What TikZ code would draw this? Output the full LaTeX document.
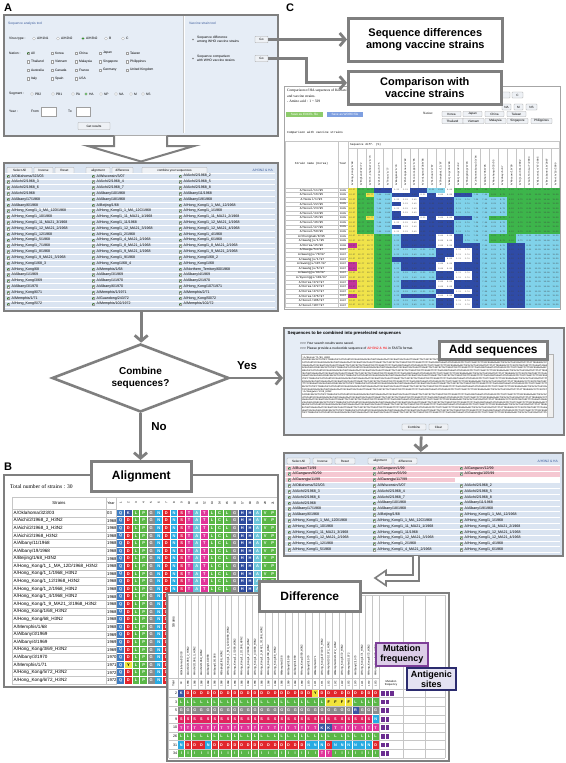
\documentclass[tikz,border=0pt]{standalone}
\usepackage{fontspec}
\setmainfont{Liberation Sans}
\newfontfamily\serifF{Liberation Serif}
\newfontfamily\monoF{Liberation Mono}
\usetikzlibrary{arrows.meta,shapes.geometric,calc}

\definecolor{fg}{HTML}{7F7F7F}
\definecolor{panelbg}{HTML}{E6EDF6}
\definecolor{rowbg}{HTML}{DAE4F1}
\definecolor{pinkrow}{HTML}{F5C8D2}
\definecolor{titleblue}{HTML}{3A5A9A}
\definecolor{btnbg}{HTML}{EEF1F5}
\definecolor{selbtn}{HTML}{B7C3D9}
\definecolor{aaQ}{HTML}{3E7DC3}
\definecolor{aaK}{HTML}{3A55A3}
\definecolor{aaR}{HTML}{3A55A3}
\definecolor{aaH}{HTML}{2D4B9E}
\definecolor{aaD}{HTML}{E2262C}
\definecolor{aaL}{HTML}{5AB747}
\definecolor{aaI}{HTML}{5AB747}
\definecolor{aaV}{HTML}{5AB747}
\definecolor{aaP}{HTML}{5AB747}
\definecolor{aaC}{HTML}{5AB747}
\definecolor{aaG}{HTML}{8C8C8C}
\definecolor{aaN}{HTML}{28ABE2}
\definecolor{aaA}{HTML}{6CC5D9}
\definecolor{aaS}{HTML}{E1245F}
\definecolor{aaT}{HTML}{E0359A}
\definecolor{aaY}{HTML}{F1E33B}
\definecolor{aaF}{HTML}{F1E33B}
\definecolor{pcy}{HTML}{F0E34A}
\definecolor{pcg}{HTML}{3DB54B}
\definecolor{pcb}{HTML}{2F4BA6}
\definecolor{pcc}{HTML}{80D2EA}
\definecolor{pcw}{HTML}{FFFFFF}
\definecolor{pcm}{HTML}{C2329C}
\definecolor{mfpurple}{HTML}{6B2D90}
\definecolor{mfbox}{HTML}{7D3F98}
\definecolor{mffill}{HTML}{DCCDE8}
\definecolor{asbox}{HTML}{2B2B6E}
\definecolor{asfill}{HTML}{E4E2F2}
\definecolor{xlgreen}{HTML}{8DCB6B}
\definecolor{wdblue}{HTML}{7E9FE0}

\def\blackY{}\def\blackF{}

\tikzset{
  panel/.style={draw=fg, line width=2.4pt, fill=panelbg, inner sep=0pt, anchor=north west},
  wpanel/.style={panel, fill=white},
  callout/.style={draw=fg, line width=2.6pt, fill=white, inner sep=0pt, align=center, anchor=north west, font=\bfseries\fontsize{11}{12}\selectfont},
  flow/.style={draw=fg, line width=2.8pt, -{Straight Barb[length=5.5pt,width=13pt]}},
  hollow/.style={draw=fg, line width=2pt, fill=white, line join=miter},
  lab/.style={font=\bfseries\fontsize{11}{12}\selectfont, anchor=west, inner sep=0pt},
  tt/.style={font=\fontsize{3.3}{3.8}\selectfont, inner sep=0pt, anchor=west},
  lt/.style={font=\fontsize{3.6}{4}\selectfont, inner sep=0pt, anchor=west},
  btn/.style={draw=gray!70, fill=btnbg, line width=0.35pt, rounded corners=0.6pt},
  btntext/.style={font=\fontsize{3.1}{3.5}\selectfont, inner sep=0pt},
  ckbox/.style={draw=gray!75, fill=white, line width=0.3pt},
  tick/.style={draw=green!40!black, line width=0.3pt},
  grid/.style={draw=gray!45, line width=0.3pt},
}

\newcommand\uiBtn[5]{\draw[btn] (#1,#2) rectangle (#3,#4);
  \node[btntext] at ({(#1+#3)/2},{(#2+#4)/2}) {#5};}
\newcommand\uiChk[2]{\draw[ckbox] ({#1-1.3},{#2-1.3}) rectangle ({#1+1.3},{#2+1.3});
  \draw[tick] ({#1-0.8},{#2}) -- ({#1-0.15},{#2+0.75}) -- ({#1+0.9},{#2-0.9});}
\newcommand\uiBox[2]{\draw[ckbox] ({#1-1.3},{#2-1.3}) rectangle ({#1+1.3},{#2+1.3});}
\newcommand\uiRad[3]{\draw[ckbox] (#1,#2) circle (1.5pt);
  \ifnum#3=1 \fill[green!55!black] (#1,#2) circle (0.8pt);\fi}
\def\dnaA{CAAAAACTTCCCGGAAATGACAACAGCACGGCAACGCTGTGCCTGGGACACCATGCAGTGCCAAACGGAACGATAGTGAAAACAATCACGAATGACCAAATTGAAGTTACTAATGCTACTGAGCTGGTTCAGAGTTCCTCAACAGGTGAAATATGCGACAGTCCTCATCAGATCCTTGATGGAGAAAACTGCACACTAATAGATGCTCTATTGGGAGACCCTCAGTGTGATGGCTTCCAAAATAAGAAATGGGACCTTTTTGTTGAACGCAGCAAAGCCTACAGCAACTGTTACCCTTAT}

\begin{document}
\begin{tikzpicture}[x=1pt,y=-1pt]
\useasboundingbox (0,0) rectangle (565,763);
\fill[white] (0,0) rectangle (565,763);

% ---------- panel labels
\node[lab] (labA) at (4,8) {A};
\node[lab] (labC) at (286,8) {C};
\node[lab] (labB) at (4,467) {B};

% =================== PANEL A ===================
\node[panel, minimum width=274pt, minimum height=121pt] (panelA) at (3,14) {};
\draw[white, line width=1.2pt] (184.6,16) -- (184.6,132.5);
\draw[gray!45, line width=0.4pt] (183.6,16) -- (183.6,132.5);
\node[tt, text=titleblue] (satitle) at (8,23.5) {Sequence analysis tool};
\node[tt] (vt) at (9,38.5) {Virus type :};
\foreach \x/\t/\s in {34/{A/H1N1}/0,58/{A/H2N2}/0,83/{A/H3N2}/1,106/B/0,123/C/0}{
  \uiRad{\x}{38.5}{\s}
  \node[tt] at (\x+2.8,38.5) {\t};}
\node[tt] (nat) at (9,53) {Nation :};
\foreach \x/\t/\s in {28/All/1,52/Korea/0,76/China/0,100/Japan/0,127/Taiwan/0}{
  \ifnum\s=1 \uiChk{\x}{53}\else\uiBox{\x}{53}\fi
  \node[tt] at (\x+2.8,53) {\t};}
\foreach \yy/\lst in {61.5/{Thailand,Vietnam,Malaysia,Singapore,Philippines},70/{Australia,Canada,France,Germany,United Kingdom},78.5/{Italy,Spain,USA}}{
  \foreach \t [count=\k] in \lst {
    \pgfmathsetmacro\xx{{28,52,76,100,127}[\k-1]}
    \uiBox{\xx}{\yy}
    \node[tt] at (\xx+2.8,\yy) {\t};}}
\node[tt] (seg) at (9,94) {Segment :};
\foreach \x/\t/\s in {32/PB2/0,53/PB1/0,73/PA/0,86/HA/1,101/NP/0,116/NA/0,131/M/0,143/NS/0}{
  \uiRad{\x}{94}{\s}
  \node[tt] at (\x+2.8,94) {\t};}
\node[tt] (yr) at (9,111.5) {Year :};
\node[tt] at (31,111.5) {From};
\draw[ckbox] (41,107) rectangle (56,116);
\node[tt] at (68,111.5) {To};
\draw[ckbox] (76,107) rectangle (90,116);
\uiBtn{78}{122.5}{110}{129.5}{Get results}
\node[tt, text=titleblue] (vstitle) at (189,23.5) {Vaccine strain tool};
\fill[gray] (193,39.5) circle (0.8pt);
\node[tt, align=left] at (197,39.5) {Sequence difference\\among WHO vaccine strains};
\fill[gray] (193,58.5) circle (0.8pt);
\node[tt, align=left] at (197,58.5) {Sequence comparison\\with WHO vaccine strains};
\node[btn, btntext, minimum width=13pt, minimum height=6.5pt] (go1) at (261.5,39.5) {Go};
\node[btn, btntext, minimum width=13pt, minimum height=6.5pt] (go2) at (261.5,58.5) {Go};

% =================== PANEL C screenshot ===================
\node[draw=gray!70, line width=0.8pt, fill=white, inner sep=0pt, anchor=north west, minimum width=276pt, minimum height=223pt] (panelC) at (284,86) {};
\node[tt, font=\serifF\fontsize{3.6}{4}\selectfont] at (287,91) {Comparison of HA sequences of Korean isolates};
\node[tt, font=\serifF\fontsize{3.6}{4}\selectfont] at (287,96) {and vaccine strains.};
\node[tt, font=\serifF\fontsize{3.6}{4}\selectfont] at (287,101) {- Amino acid : 1 \textasciitilde{} 329};
\fill[xlgreen] (286,111.5) rectangle (323,116.5);
\node[btntext, text=white] at (304.5,114) {Save as EXCEL file};
\fill[wdblue] (327,111.5) rectangle (363,116.5);
\node[btntext, text=white] at (345,114) {Save as WORD file};
\uiBtn{498}{92}{510}{98}{}
\uiBtn{512}{92}{523}{98}{C}
\uiBtn{502}{104}{511}{110}{NA}
\uiBtn{514}{104}{523}{110}{M}
\uiBtn{526}{104}{537}{110}{NS}
\node[tt, font=\serifF\fontsize{3.3}{3.8}\selectfont] at (423,113.5) {Nation:};
\foreach \x/\t in {442/Korea,463/Japan,485/China,507/Taiwan}{\uiBtn{\x}{111.5}{\x+19}{116.5}{\t}}
\foreach \x/\t in {442/Thailand,463/Vietnam,485/Malaysia,507/Singapore,531/Philippines}{\uiBtn{\x}{118.5}{\x+21}{123.5}{\t}}
\node[tt, font=\monoF\fontsize{3}{3.5}\selectfont] at (287,133) {Comparison with vaccine strains};
% table
\draw[grid] (285,141) rectangle (559,307);
\draw[grid] (285,188) -- (559,188);
\draw[grid] (338,141) -- (338,307);
\draw[grid] (348,141) -- (348,307);
\draw[grid] (348,148) -- (559,148);
\foreach \k in {1,...,23}{\draw[grid] ({348+\k*8.83},148) -- ({348+\k*8.83},188);}
\node[tt, font=\monoF\fontsize{2.8}{3}\selectfont] at (350,145) {Sequence diff. (\%)};
\node[font=\monoF\fontsize{2.9}{3}\selectfont, inner sep=0pt] at (311.5,164) {Strain name (Korea)};
\node[font=\monoF\fontsize{2.9}{3}\selectfont, inner sep=0pt] at (343,164) {Year};
\foreach \nm [count=\k] in {A/Hong\_Kong/1/68,A/England/42/72,A/Port\_Chalmers/1/73,A/Victoria/3/75,A/Texas/1/77,A/Bangkok/1/79,A/Philippines/2/82,A/Mississippi/1/85,A/Leningrad/360/86,A/Sichuan/2/87,A/Shanghai/11/87,A/Beijing/353/89,A/Beijing/32/92,A/Shangdong/9/93,A/Johannesburg/33/94,A/Wuhan/359/95,A/Nanchang/933/95,A/Sydney/5/97,A/Moscow/10/99,A/Fujian/411/2002,A/California/7/2004,A/Wisconsin/67/2005,A/Brisbane/10/2007,A/Perth/16/2009}{
  \node[rotate=90, anchor=west, font=\monoF\fontsize{2.5}{3}\selectfont, inner sep=0pt] at ({348+(\k-0.5)*8.83},186) {\nm};}
\def\patA{y,g,g,b,b,w,w,b,b,c,c,w,g,g,g,g,g,g,g,g,g,g,g,g}
\def\patB{y,g,y,c,c,b,b,b,w,b,w,w,b,b,c,c,g,g,g,g,g,g,g,g}
\def\patC{y,g,g,c,c,w,w,w,b,b,b,b,c,c,c,c,c,c,g,g,g,g,g,g}
\def\patD{y,g,g,c,c,b,w,w,b,b,b,b,c,c,c,c,c,c,g,g,g,g,g,g}
\def\patE{y,y,y,g,g,c,b,b,b,b,w,w,b,c,c,c,g,g,g,c,c,c,c,c}
\def\patF{m,y,y,g,g,c,b,b,b,b,w,w,b,b,b,c,c,c,b,b,c,c,c,c}
\def\patG{y,y,y,g,g,c,c,c,c,c,b,b,w,w,b,c,c,c,b,b,c,c,c,c}
\def\patH{y,y,y,g,g,b,b,b,b,b,b,w,w,w,b,c,c,c,b,b,c,c,c,c}
\foreach \nm/\yr/\pt [count=\r] in {{A/Seoul/11/95}/1995/A,{A/Seoul/16/95}/1995/B,{A/Seoul/1/95}/1995/C,{A/Seoul/22/95}/1995/D,{A/Seoul/23/95}/1995/C,{A/Seoul/44/95}/1995/D,{A/Seoul/45/95}/1995/B,{A/Seoul/46/95}/1995/C,{A/Seoul/47/95}/1995/D,{A/Seoul/50/95}/1995/C,{A/Chungnam/8/95}/1995/E,{A/Gwangju/1/95}/1995/E,{A/Korea/45/96}/1996/F,{A/Daegu/54/97}/1997/G,{A/Gwangju/70/97}/1997/G,{A/Gwangju/1/97}/1997/H,{A/Gwangju/107/97}/1997/F,{A/Gwangju/6/97}/1997/F,{A/Gwangju/93/97}/1997/G,{A/Gyeonggi/102/97}/1997/G,{A/Korea/372/97}/1997/F,{A/Korea/472/97}/1997/F,{A/Korea/473/97}/1997/G,{A/Korea/476/97}/1997/F,{A/Seoul/106/97}/1997/G,{A/Seoul/107/97}/1997/G}{
  \pgfmathsetmacro\yy{188+(\r-1)*4.6}
  \node[font=\monoF\fontsize{3}{3}\selectfont, inner sep=0pt] at (311.5,\yy+2.3) {\nm};
  \node[font=\monoF\fontsize{2.6}{3}\selectfont, inner sep=0pt] at (343,\yy+2.3) {\yr};
  \expandafter\let\expandafter\pat\csname pat\pt\endcsname
  \foreach \cl [count=\k] in \pat {\fill[pc\cl] ({348+(\k-1)*8.83},\yy) rectangle ++(8.83,4.6);}
  \draw[grid] (285,\yy+4.6) -- (348,\yy+4.6);
}
\foreach \r in {1,...,26}{
  \foreach \v [count=\k] in {12.27,12.77,12.77,7.60,8.05,1.22,2.13,2.43,8.21,8.21,8.88,8.88,2.74,2.74,7.29,7.90,8.21,8.73,9.12,9.73,8.21,11.25,10.84,11.25}{
    \node[font=\monoF\fontsize{2}{2}\selectfont, inner sep=0pt, text=black!75] at ({348+(\k-0.5)*8.83},{188+(\r-0.5)*4.6}) {\v};}}

% ---------- callouts for A -> C
\node[callout, minimum width=154pt, minimum height=43pt] (seqdiff) at (347,17) {Sequence differences\\among vaccine strains};
\node[callout, minimum width=153pt, minimum height=33pt] (compbox) at (347,70) {Comparison with\\vaccine strains};
\draw[flow] (go1.east) -- (go1.east -| seqdiff.west);
\draw[flow] (go2.east) -- ++(38,0) |- ([yshift=5pt]compbox.west);

% =================== STRAIN LIST ===================
\node[panel, fill=rowbg, minimum width=274pt, minimum height=148pt] (list) at (3,162) {};
\fill[selbtn] (7,167.5) rectangle (32,173.5);
\uiBtn{7}{167.5}{32}{173.5}{Select All}
\uiBtn{34}{167.5}{53}{173.5}{Inverse}
\uiBtn{55}{167.5}{74}{173.5}{Reset}
\uiBtn{86}{167.5}{110}{173.5}{alignment}
\uiBtn{112}{167.5}{133}{173.5}{difference}
\uiBtn{142}{167.5}{207}{173.5}{combine your sequences}
\node[tt, anchor=east, text=titleblue] at (273,170.5) {A/H3N2 \& HA};
\foreach \i in {0,...,23}{\draw[white, line width=0.6pt] (5,{173.1+\i*5.82}) -- (275,{173.1+\i*5.82});}
\foreach \na/\nb/\nc [count=\i from 0] in {
{A/Oklahoma/323/03}/{A/Wisconsin/3/07}/{A/Aichi/2/1968\_2},
{A/Aichi/2/1968\_3}/{A/Aichi/2/1968\_4}/{A/Aichi/2/1968\_5},
{A/Aichi/2/1968\_6}/{A/Aichi/2/1968\_7}/{A/Aichi/2/1968\_8},
{A/Aichi/2/1968}/{A/Albany/10/1968}/{A/Albany/11/1968},
{A/Albany/17/1968}/{A/Albany/18/1968}/{A/Albany/19/1968},
{A/Albany/6/1968}/{A/Beijing/1/68}/{A/Hong\_Kong/1\_1\_MA\_12/1968},
{A/Hong\_Kong/1\_1\_MA\_12D/1968}/{A/Hong\_Kong/1\_1\_MA\_12C/1968}/{A/Hong\_Kong/1\_1/1968},
{A/Hong\_Kong/1\_10/1968}/{A/Hong\_Kong/1\_11\_MA21\_1/1968}/{A/Hong\_Kong/1\_11\_MA21\_2/1968},
{A/Hong\_Kong/1\_11\_MA21\_3/1968}/{A/Hong\_Kong/1\_11/1968}/{A/Hong\_Kong/1\_12\_MA21\_1/1968},
{A/Hong\_Kong/1\_12\_MA21\_2/1968}/{A/Hong\_Kong/1\_12\_MA21\_3/1968}/{A/Hong\_Kong/1\_12\_MA21\_4/1968},
{A/Hong\_Kong/1\_12/1968}/{A/Hong\_Kong/1\_2/1968}/{A/Hong\_Kong/1\_4/1968},
{A/Hong\_Kong/1\_5/1968}/{A/Hong\_Kong/1\_4\_MA21\_2/1968}/{A/Hong\_Kong/1\_6/1968},
{A/Hong\_Kong/1\_7/1968}/{A/Hong\_Kong/1\_8\_MA21\_1/1968}/{A/Hong\_Kong/1\_8\_MA21\_2/1968},
{A/Hong\_Kong/1\_8/1968}/{A/Hong\_Kong/1\_9\_MA21\_1/1968}/{A/Hong\_Kong/1\_9\_MA21\_2/1968},
{A/Hong\_Kong/1\_9\_MA21\_3/1968}/{A/Hong\_Kong/1\_9/1968}/{A/Hong\_Kong/1/68\_2},
{A/Hong\_Kong/1/68\_3}/{A/Hong\_Kong/1/68\_4}/{A/Hong\_Kong/1/68},
{A/Hong\_Kong/68}/{A/Memphis/1/68}/{A/Northern\_Territory/60/1968},
{A/Albany/1/1969}/{A/Albany/3/1969}/{A/Albany/4/1969},
{A/Hong\_Kong/3/69}/{A/Albany/1/1970}/{A/Albany/2/1970},
{A/Albany/3/1970}/{A/Albany/6/1970}/{A/Hong\_Kong/107/1971},
{A/Hong\_Kong/6/71}/{A/Memphis/1/1971}/{A/Memphis/2/71},
{A/Memphis/1/71}/{A/Guandong/243/72}/{A/Hong\_Kong/50/72},
{A/Hong\_Kong/5/72}/{A/Memphis/102/1972}/{A/Memphis/102/72}}{
  \pgfmathsetmacro\yy{176+\i*5.82}
  \uiChk{8}{\yy}\node[lt] at (11.5,\yy) {\na};
  \uiChk{93}{\yy}\node[lt] at (96.5,\yy) {\nb};
  \uiChk{180}{\yy}\node[lt] at (183.5,\yy) {\nc};
}
% hollow arrow A -> list
\draw[hollow] (114,135.5) -- (114,146) -- (88,146) -- (141,161.5) -- (194,146) -- (167,146) -- (167,135.5);

% =================== DECISION ===================
\node[draw=fg, line width=2.6pt, fill=white, shape=diamond, aspect=2.5, minimum width=177pt, minimum height=68pt, inner sep=0pt, align=center, font=\bfseries\fontsize{10}{12}\selectfont] (combine) at (140.5,378) {Combine\\sequences?};
\draw[flow] (list.south) -- (list.south |- combine.north);
\node[font=\bfseries\fontsize{11.5}{12}\selectfont, inner sep=0pt] (yes) at (247,366) {Yes};
\node[font=\bfseries\fontsize{11.5}{12}\selectfont, inner sep=0pt] (no) at (159,427) {No};

% =================== ADD SEQUENCES PANEL ===================
\node[panel, minimum width=280pt, minimum height=107pt] (addpanel) at (283,327) {};
\node[tt, font=\bfseries\fontsize{4.3}{5}\selectfont] at (287.5,333.5) {Sequences to be combined into preselected sequences};
\node[tt] at (300,343.5) {>{}>{}> Your search results were saved.};
\node[tt] at (300,348.5) {>{}>{}> Please provide a nucleotide sequence of \textcolor{red}{A/H3N2 \& HA} in FASTA format.};
\draw[draw=gray!60, fill=white, line width=0.4pt] (301,354) rectangle (553,417);
\fill[gray!12] (547.5,354.5) rectangle (552.5,416.5);
\draw[gray!50, line width=0.3pt] (547.5,354.5) -- (547.5,416.5);
\begin{scope}
  \clip (302,355) rectangle (546.5,416);
  \foreach \i in {0,...,21}{
    \pgfmathsetmacro\yy{357.5+\i*2.65}
    \ifnum\i=0
      \node[tt, font=\monoF\fontsize{2.4}{2.6}\selectfont] at (302.5,\yy) {>A/Busan/71/99\_H3N2};
    \else\ifnum\i=13
      \node[tt, font=\monoF\fontsize{2.4}{2.6}\selectfont] at (302.5,\yy) {>A/Gangwon/1/99\_H3N2};
    \else
      \pgfmathsetmacro\xo{302.5-mod(\i*37,120)}
      \node[tt, font=\monoF\fontsize{2.4}{2.6}\selectfont] at (\xo,\yy) {\dnaA};
    \fi\fi}
\end{scope}
\uiBtn{402}{424}{426}{430}{Combine}
\uiBtn{429}{424}{448}{430}{Clear}
\node[callout, font=\bfseries\fontsize{12}{13}\selectfont, minimum width=108pt, minimum height=18pt] (addlab) at (438,340) {Add sequences};
\draw[flow] (combine.east) -- (combine.east -| addpanel.west);

% =================== COMBINED LIST ===================
\node[panel, fill=rowbg, minimum width=279pt, minimum height=103pt] (comb) at (283,452) {};
\draw[flow] ([xshift=-3pt]addpanel.south) -- ([xshift=-3pt]comb.north);
\fill[selbtn] (287,458) rectangle (310,464);
\uiBtn{287}{458}{310}{464}{Select All}
\uiBtn{313}{458}{332}{464}{Inverse}
\uiBtn{335}{458}{355}{464}{Reset}
\uiBtn{368}{458}{392}{464}{alignment}
\uiBtn{394}{458}{417}{464}{difference}
\node[tt, anchor=east, text=titleblue] at (558,461) {A/H3N2 \& HA};
\fill[pinkrow] (285.5,465.2) rectangle (559.5,477);
\fill[pinkrow] (285.5,477) rectangle (455,482.8);
\fill[white] (455,477) rectangle (559.5,482.8);
\foreach \i in {0,...,15}{\draw[white, line width=0.6pt] (285,{465.2+\i*5.82}) -- (560,{465.2+\i*5.82});}
\foreach \na/\nb/\nc/\f [count=\i from 0] in {
{A/Busan/71/99}/{A/Gangwon/1/99}/{A/Gangwon/12/99}/1,
{A/Gangwon/80/99}/{A/Gangwon/93/99}/{A/Gwangju/105/99}/1,
{A/Gwangju/11/99}/{A/Gwangju/117/99}/{}/0,
{A/Oklahoma/323/03}/{A/Wisconsin/3/07}/{A/Aichi/2/1968\_2}/1,
{A/Aichi/2/1968\_3}/{A/Aichi/2/1968\_4}/{A/Aichi/2/1968\_5}/1,
{A/Aichi/2/1968\_6}/{A/Aichi/2/1968\_7}/{A/Aichi/2/1968\_8}/1,
{A/Aichi/2/1968}/{A/Albany/10/1968}/{A/Albany/11/1968}/1,
{A/Albany/17/1968}/{A/Albany/18/1968}/{A/Albany/19/1968}/1,
{A/Albany/6/1968}/{A/Beijing/1/68}/{A/Hong\_Kong/1\_1\_MA\_12/1968}/1,
{A/Hong\_Kong/1\_1\_MA\_12D/1968}/{A/Hong\_Kong/1\_1\_MA\_12C/1968}/{A/Hong\_Kong/1\_1/1968}/1,
{A/Hong\_Kong/1\_10/1968}/{A/Hong\_Kong/1\_11\_MA21\_1/1968}/{A/Hong\_Kong/1\_11\_MA21\_2/1968}/1,
{A/Hong\_Kong/1\_11\_MA21\_3/1968}/{A/Hong\_Kong/1\_11/1968}/{A/Hong\_Kong/1\_12\_MA21\_1/1968}/1,
{A/Hong\_Kong/1\_12\_MA21\_2/1968}/{A/Hong\_Kong/1\_12\_MA21\_3/1968}/{A/Hong\_Kong/1\_12\_MA21\_4/1968}/1,
{A/Hong\_Kong/1\_12/1968}/{A/Hong\_Kong/1\_2/1968}/{A/Hong\_Kong/1\_4/1968}/1,
{A/Hong\_Kong/1\_5/1968}/{A/Hong\_Kong/1\_4\_MA21\_2/1968}/{A/Hong\_Kong/1\_6/1968}/1}{
  \pgfmathsetmacro\yy{468.1+\i*5.82}
  \uiChk{289}{\yy}\node[lt] at (292.5,\yy) {\na};
  \uiChk{374}{\yy}\node[lt] at (377.5,\yy) {\nb};
  \ifnum\f=1 \uiChk{461}{\yy}\node[lt] at (464.5,\yy) {\nc};\fi
}

% =================== PANEL B ===================
\node[wpanel, minimum width=274pt, minimum height=212pt] (panelB) at (3,474) {};
\node[tt, font=\serifF\fontsize{5.6}{6}\selectfont] at (10,487) {Total number of strains : 30};
\draw[grid] (12,497) -- (277,497);
\draw[grid] (12,497) -- (12,684);
\draw[grid] (106,497) -- (106,684);
\draw[grid] (116.5,497) -- (116.5,684);
\node[font=\fontsize{4.2}{5}\selectfont, inner sep=0pt] at (59,503) {Strains};
\node[font=\fontsize{3.6}{4}\selectfont, inner sep=0pt] at (111,503) {Year};
\foreach \k in {1,...,21}{
  \node[rotate=90, font=\fontsize{3}{3}\selectfont, inner sep=0pt] at ({117+(\k-0.5)*7.6},503) {\k};}
\foreach \nm/\yr/\sv [count=\r] in {
{A/Oklahoma/323/03}/03/1,
{A/Aichi/2/1968\_2\_H3N2}/1968/0,
{A/Aichi/2/1968\_3\_H3N2}/1968/0,
{A/Aichi/2/1968\_H3N2}/1968/0,
{A/Albany/11/1968}/1968/0,
{A/Albany/19/1968}/1968/0,
{A/Beijing/1/68\_H3N2}/1968/0,
{A/Hong\_Kong/1\_1\_MA\_12D/1968\_H3N2}/1968/0,
{A/Hong\_Kong/1\_1/1968\_H3N2}/1968/0,
{A/Hong\_Kong/1\_12/1968\_H3N2}/1968/0,
{A/Hong\_Kong/1\_2/1968\_H3N2}/1968/0,
{A/Hong\_Kong/1\_4/1968\_H3N2}/1968/0,
{A/Hong\_Kong/1\_9\_MA21\_3/1968\_H3N2}/1968/0,
{A/Hong\_Kong/1/68\_H3N2}/1968/0,
{A/Hong\_Kong/68\_H3N2}/1968/0,
{A/Memphis/1/68}/1968/0,
{A/Albany/3/1969}/1969/0,
{A/Albany/4/1969}/1969/0,
{A/Hong\_Kong/3/69\_H3N2}/1969/0,
{A/Albany/3/1970}/1970/0,
{A/Memphis/1/71}/1971/2,
{A/Hong\_Kong/5/72\_H3N2}/1972/0,
{A/Hong\_Kong/6/72\_H3N2}/1972/0}{
  \pgfmathsetmacro\yy{509.2+(\r-1)*7.6}
  \draw[grid] (12,\yy) -- (116.5,\yy);
  \node[tt, font=\fontsize{4.6}{5}\selectfont] at (13.5,\yy+3.8) {\nm};
  \node[tt, font=\fontsize{4.2}{5}\selectfont] at (107,\yy+3.8) {\yr};
  \ifcase\sv\relax
    \def\sq{Q,D,L,P,G,N,D,N,S,T,A,T,L,C,L,G,H,H,A,V,P}\or
    \def\sq{Q,K,L,P,G,N,D,N,S,T,A,T,L,C,L,G,H,H,A,V,P}\or
    \def\sq{Q,Y,L,P,G,N,D,N,S,T,A,T,L,C,L,G,H,H,A,V,P}\fi
  \foreach \res [count=\cn] in \sq {
    \ifcsname black\res\endcsname\def\tcol{black}\else\def\tcol{white}\fi
    \fill[aa\res] ({117+(\cn-1)*7.6+0.4},{\yy+0.5}) rectangle ++(6.8,6.6);
    \node[font=\bfseries\fontsize{4}{4}\selectfont, text=\tcol, inner sep=0pt] at ({117+(\cn-0.5)*7.6},{\yy+3.8}) {\res};}
}
\draw[grid] (12,684) -- (116.5,684);
\node[callout, font=\bfseries\fontsize{12}{13}\selectfont, minimum width=100pt, minimum height=30pt] (align) at (90,460) {Alignment};
\draw[flow] (combine.south) -- (combine.south |- align.north);

% =================== DIFFERENCE PANEL ===================
\node[wpanel, minimum width=282pt, minimum height=168pt] (diffpanel) at (166,592) {};
\foreach \x in {168.5,178,379,403,425,445}{\draw[grid] (\x,595) -- (\x,758);}
\foreach \k in {1,...,29}{\draw[grid] ({178+\k*6.7},595) -- ({178+\k*6.7},689);}
\draw[grid] (168.5,595) -- (445,595);
\draw[grid] (168.5,678) -- (379,678);
\draw[grid] (168.5,689) -- (445,689);
\node[rotate=90, font=\fontsize{3.4}{4}\selectfont, inner sep=0pt] at (173.3,622) {Strains};
\node[rotate=90, font=\fontsize{3}{3}\selectfont, inner sep=0pt] at (173.3,683.5) {Year};
\foreach \nm/\yr [count=\k] in {
{A/Oklahoma/323/03}/03,{A/Aichi/2/1968\_2\_H3N2}/1968,{A/Aichi/2/1968\_3\_H3N2}/1968,{A/Aichi/2/1968\_H3N2}/1968,{A/Albany/11/1968}/1968,{A/Albany/19/1968}/1968,{A/Beijing/1/68\_H3N2}/1968,{A/Hong\_Kong/1\_1\_MA\_12D/1968\_H3N2}/1968,{A/Hong\_Kong/1\_1/1968\_H3N2}/1968,{A/Hong\_Kong/1\_12/1968\_H3N2}/1968,{A/Hong\_Kong/1\_2/1968\_H3N2}/1968,{A/Hong\_Kong/1\_4/1968\_H3N2}/1968,{A/Hong\_Kong/1\_9\_MA21\_3/1968\_H3N2}/1968,{A/Hong\_Kong/1/68\_H3N2}/1968,{A/Hong\_Kong/68\_H3N2}/1968,{A/Memphis/1/68}/1968,{A/Albany/3/1969}/1969,{A/Albany/4/1969}/1969,{A/Hong\_Kong/3/69\_H3N2}/1969,{A/Albany/3/1970}/1970,{A/Memphis/1/71}/1971,{A/Hong\_Kong/107/1971\_H3N2}/1971,{A/Memphis/101/1972\_H3N2}/1972,{A/Memphis/102/1972\_H3N2}/1972,{A/Hong\_Kong/5/72\_H3N2}/1972,{A/Memphis/1/1972}/1972,{A/Albany/2/1970}/1970,{A/Hong\_Kong/1/71\_H3N2}/1971,{A/Hong\_Kong/6/72\_H3N2}/1972,{A/Hong\_Kong/5/73\_H3N2}/1973}{
  \node[rotate=90, anchor=west, font=\fontsize{2.7}{3}\selectfont, inner sep=0pt] at ({178+(\k-0.5)*6.7},676) {\nm};
  \node[rotate=90, font=\fontsize{2.6}{3}\selectfont, inner sep=0pt] at ({178+(\k-0.5)*6.7},683.5) {\yr};}
\foreach \lab/\sq [count=\r] in {
2/{K,D,D,D,D,D,D,D,D,D,D,D,D,D,D,D,D,D,D,D,Y,D,D,D,D,D,D,D,D,D},
3/{L,L,L,L,L,L,L,L,L,L,L,L,L,L,L,L,L,L,L,L,L,L,F,F,F,F,L,L,L,L},
5/{G,G,G,G,G,G,G,G,G,G,G,G,G,G,G,G,G,G,G,G,G,G,G,G,G,G,R,G,G,G},
9/{S,S,S,S,S,S,S,S,S,S,S,S,S,S,S,S,S,S,S,S,S,S,S,S,S,S,S,S,S,N},
10/{T,T,T,T,T,T,T,T,T,T,T,T,T,T,T,T,T,T,T,T,T,K,K,T,T,T,T,T,T,T},
26/{L,L,L,L,L,L,L,L,L,L,L,L,L,L,L,L,L,L,L,L,L,L,L,L,L,L,L,L,L,L},
31/{N,D,D,D,N,D,D,D,D,D,D,D,D,D,D,D,D,D,D,N,N,N,D,N,N,N,N,N,N,D},
34/{I,I,I,I,I,I,I,I,I,I,I,I,I,I,I,I,I,I,I,I,I,T,T,I,I,I,I,I,I,I}}{
  \pgfmathsetmacro\yy{689+(\r-1)*8.6}
  \draw[grid] (168.5,\yy+8.6) -- (445,\yy+8.6);
  \node[font=\fontsize{3.6}{4}\selectfont, inner sep=0pt, anchor=east] at (177.3,\yy+4.3) {\lab};
  \foreach \res [count=\cn] in \sq {
    \ifcsname black\res\endcsname\def\tcol{black}\else\def\tcol{white}\fi
    \fill[aa\res] ({178+(\cn-1)*6.7+0.3},{\yy+0.6}) rectangle ++(6.1,7.4);
    \node[font=\bfseries\fontsize{3.8}{4}\selectfont, text=\tcol, inner sep=0pt] at ({178+(\cn-0.5)*6.7},{\yy+4.3}) {\res};}
  \ifnum\r=1
    \foreach \q in {0,1,2}{\fill[mfpurple] ({381+\q*4.5},{\yy+2}) rectangle ++(3.7,4.8);}
  \else
    \foreach \q in {0,1}{\fill[mfpurple] ({381+\q*4.5},{\yy+2}) rectangle ++(3.7,4.8);}
  \fi
}
\node[font=\fontsize{2.8}{3.2}\selectfont, inner sep=0pt, align=center] at (391,683.5) {Mutation\\frequency};
\node[font=\fontsize{2.8}{3.2}\selectfont, inner sep=0pt, align=center, text=gray] at (414,683.5) {Antigenic\\sites};
\node[callout, font=\bfseries\fontsize{12}{13}\selectfont, minimum width=101pt, minimum height=30pt] (difflab) at (258,580) {Difference};
% hollow L arrow
\draw[hollow, line width=1.6pt] (413,556) -- (413,575) -- (386,575) -- (386,570.5) -- (375,578) -- (386,585.5) -- (386,581) -- (419,581) -- (419,556);
\node[draw=mfbox, line width=1.6pt, fill=mffill, inner sep=0pt, align=center, anchor=north west, minimum width=52pt, minimum height=23pt, font=\bfseries\fontsize{9}{10}\selectfont] (mutf) at (375,642) {Mutation\\frequency};
\node[draw=asbox, line width=1.6pt, fill=asfill, inner sep=0pt, align=center, anchor=north west, minimum width=49pt, minimum height=22pt, font=\bfseries\fontsize{9}{10}\selectfont] (antis) at (406,667) {Antigenic\\sites};
\end{tikzpicture}
\end{document}
